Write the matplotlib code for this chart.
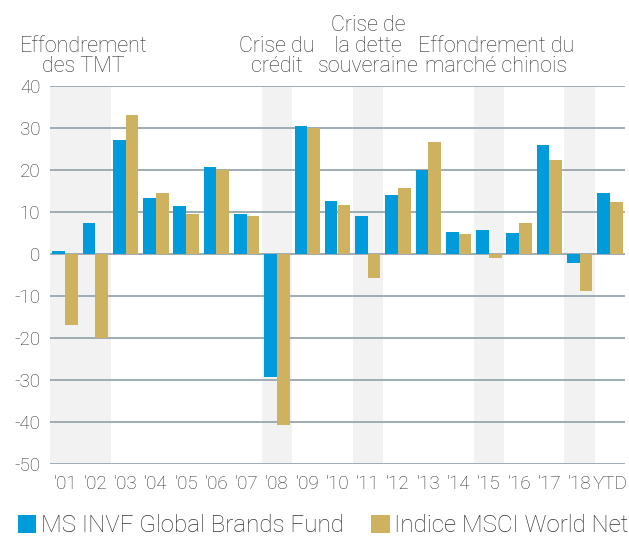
import matplotlib
matplotlib.use("Agg")
import matplotlib.pyplot as plt
import numpy as np

categories = ["'01", "'02", "'03", "'04", "'05", "'06", "'07", "'08", "'09", "'10",
              "'11", "'12", "'13", "'14", "'15", "'16", "'17", "'18", "YTD"]
fund = [0.7, 7.4, 27.1, 13.3, 11.4, 20.7, 9.5, -29.2, 30.5, 12.6,
        9.0, 14.0, 20.0, 5.2, 5.7, 5.0, 26.0, -2.1, 14.5]
index = [-16.9, -20.0, 33.2, 14.5, 9.5, 20.0, 9.0, -40.6, 30.0, 11.7,
         -5.6, 15.7, 26.7, 4.8, -0.9, 7.4, 22.4, -8.7, 12.4]
series_names = ["MS INVF Global Brands Fund", "Indice MSCI World Net"]
yticks = [40, 30, 20, 10, 0, -10, -20, -30, -40, -50]
crisis_bands = [(0, 1), (7, 7), (10, 10), (14, 14), (17, 17)]
crisis_labels = [("Effondrement\ndes TMT", 0.6), ("Crise du\ncrédit", 7),
                 ("Crise de\nla dette\nsouveraine", 10),
                 ("Effondrement du\nmarché chinois", 14.25)]

BLUE = "#009bdb"
GOLD = "#cfb260"
FONT = "Roboto"
TXT = "#333333"

fig = plt.figure(figsize=(6.29, 5.41), dpi=100)
ax = fig.add_axes([50/629, 77/541, 575/629, 378/541])

x = np.arange(len(categories))
w = 0.42
for a, b in crisis_bands:
    ax.axvspan(a - 0.5, b + 0.5, color="#f2f2f2", zorder=0, lw=0)
for yv in yticks:
    ax.axhline(yv, color="#98a6ae", lw=1.3, zorder=1)
ax.bar(x - w/2, fund, w, color=BLUE, zorder=2, label=series_names[0])
ax.bar(x + w/2, index, w, color=GOLD, zorder=2, label=series_names[1])

ax.set_xlim(-0.5, len(categories) - 0.5)
ax.set_ylim(-50, 40)
ax.set_yticks(yticks)
ax.set_yticklabels([str(v) for v in yticks], fontsize=13.5, family=FONT,
                   fontweight="light", color=TXT)
ax.set_xticks(x)
ax.set_xticklabels(categories, fontsize=13.5, family=FONT, fontweight="light", color=TXT)
ax.tick_params(length=0, axis="y", pad=7)
ax.tick_params(length=0, axis="x", pad=8)
for s in ax.spines.values():
    s.set_visible(False)

trans = matplotlib.transforms.blended_transform_factory(ax.transData, fig.transFigure)
for text, xc in crisis_labels:
    ax.text(xc, 1 - 72/541, text, transform=trans,
            ha="center", va="baseline", fontsize=15.5, family=FONT, fontweight="light",
            color=TXT, linespacing=0.96)

leg = fig.legend(loc="lower left", bbox_to_anchor=(13/629, -1/541), ncol=2, frameon=False,
                 prop={"family": FONT, "weight": "light", "size": 17.4},
                 handlelength=0.75, handleheight=0.75, handletextpad=0.2, columnspacing=1.15,
                 borderaxespad=0, borderpad=0.2)
for t in leg.get_texts():
    t.set_color(TXT)

fig.savefig("out.png", dpi=100)
